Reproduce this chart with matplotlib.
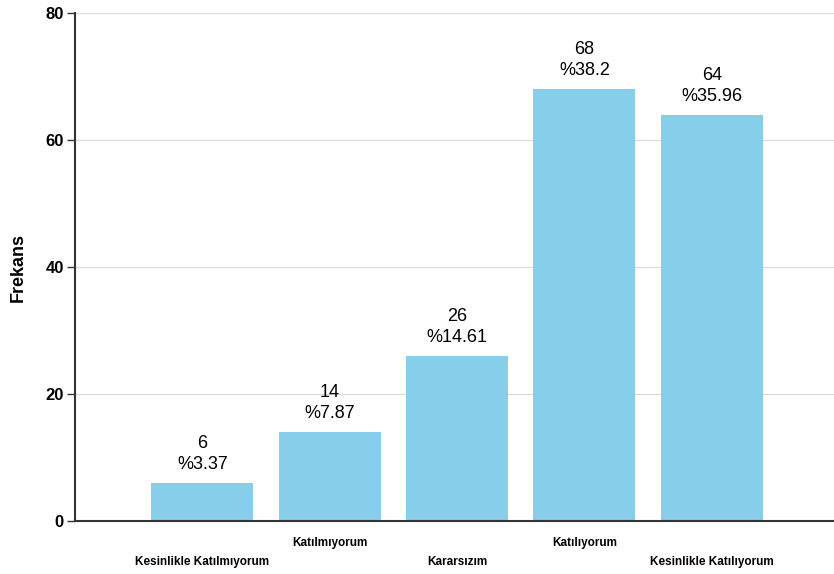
import matplotlib
matplotlib.use("Agg")
import matplotlib.pyplot as plt

categories = ["Kesinlikle Katılmıyorum", "Katılmıyorum", "Kararsızım", "Katılıyorum", "Kesinlikle Katılıyorum"]
counts = [6, 14, 26, 68, 64]
percents = ["3.37", "7.87", "14.61", "38.2", "35.96"]
yticks = [0, 20, 40, 60, 80]

plt.rcParams['font.family'] = ['Liberation Sans', 'DejaVu Sans']

W, H = 834, 574
fig = plt.figure(figsize=(W / 100, H / 100), dpi=100)
ax = fig.add_axes([75 / W, (H - 521) / H, (834 - 75) / W, (521 - 13) / H])

x = list(range(len(categories)))
ax.bar(x, counts, width=0.8, color="#87CEEB", zorder=2)

ax.set_xlim(-1.0, 4.96)
ax.set_ylim(0, 80)
ax.set_yticks(yticks)
ax.set_yticklabels([str(v) for v in yticks], fontsize=12, fontweight="bold")
ax.yaxis.grid(True, color="#dddddd", linewidth=1, zorder=0)
ax.set_axisbelow(True)
for s in ["top", "right"]:
    ax.spines[s].set_visible(False)
for s in ["left", "bottom"]:
    ax.spines[s].set_color("#333333")
    ax.spines[s].set_linewidth(1.5)
ax.tick_params(axis="y", length=6, width=1, color="#333333", pad=2)
ax.set_xticks([])

for i, (c, p) in enumerate(zip(categories, percents)):
    off = 41 if i % 2 == 0 else 22
    ax.annotate(c, xy=(i, 0), xytext=(0, -off), textcoords="offset pixels",
                ha="center", va="center", fontsize=8.5, fontweight="bold")
    ax.annotate(f"{counts[i]}\n%{p}", xy=(i, counts[i]), xytext=(0, 10), textcoords="offset pixels",
                ha="center", va="bottom", fontsize=13, linespacing=1.3)

fig.text(18 / W, 1 - 267 / H, "Frekans", rotation=90, ha="center", va="center",
         fontsize=13, fontweight="bold")

fig.savefig("out.png", dpi=100)
